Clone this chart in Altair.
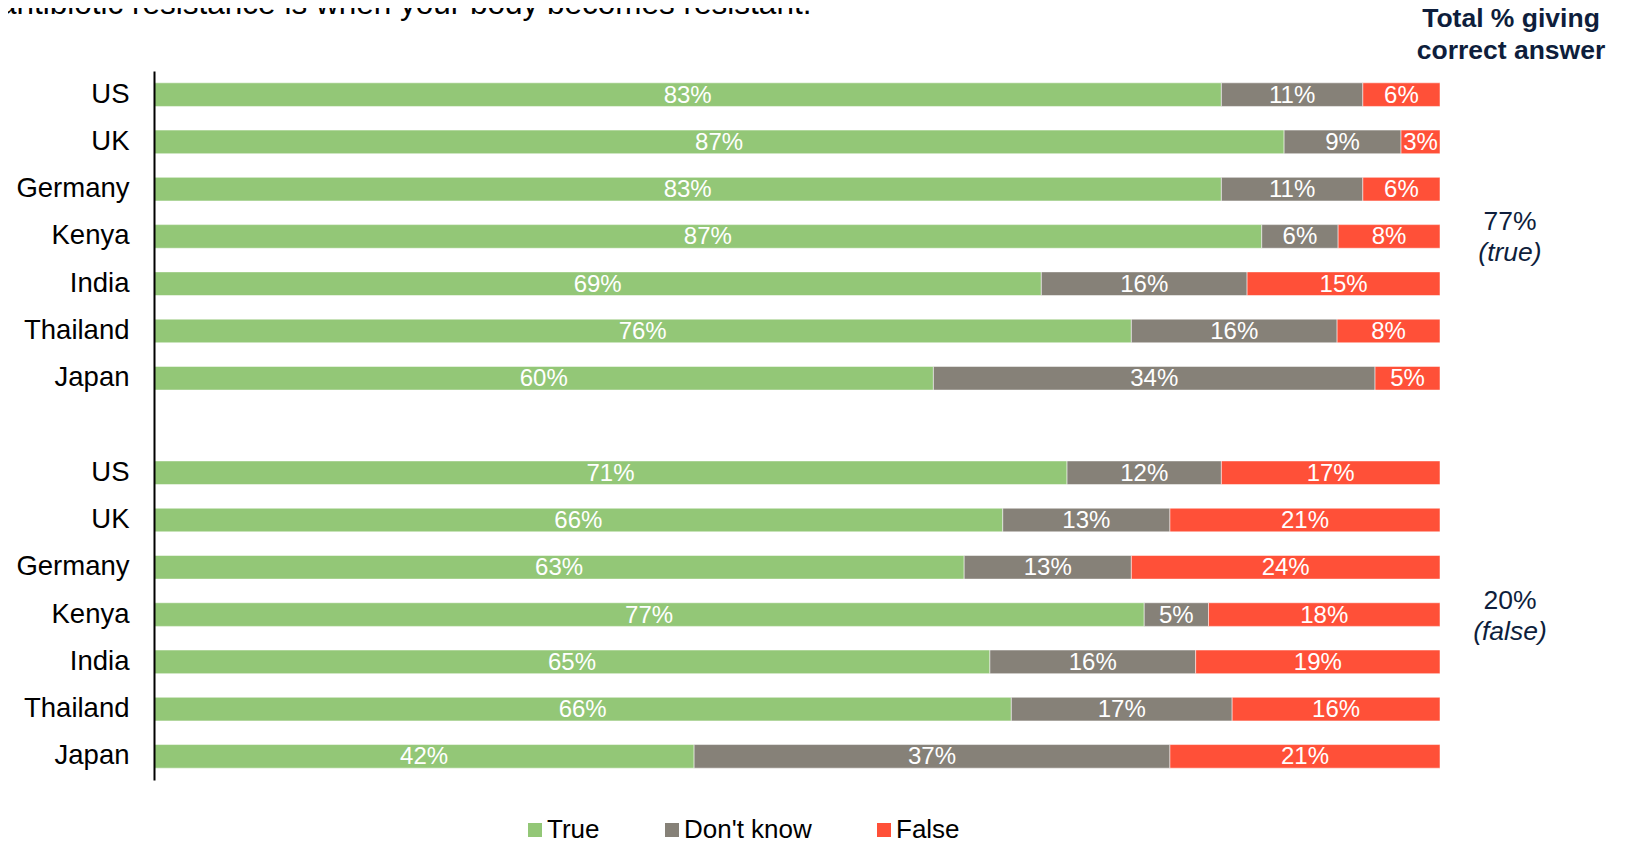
import altair as alt
import pandas as pd

countries = ["US", "UK", "Germany", "Kenya", "India", "Thailand", "Japan"]
responses = ["True", "Don't know", "False"]
colors = ["#93C777", "#868178", "#FF5038"]

q1_true = [83, 87, 83, 87, 69, 76, 60]
q1_dk = [11, 9, 11, 6, 16, 16, 34]
q1_false = [6, 3, 6, 8, 15, 8, 5]

q2_true = [71, 66, 63, 77, 65, 66, 42]
q2_dk = [12, 13, 13, 5, 16, 17, 37]
q2_false = [17, 21, 24, 18, 19, 16, 21]

title_text = "antibiotic resistance is when your body becomes resistant."
header_1 = "Total % giving"
header_2 = "correct answer"
total_1 = ["77%", "(true)"]
total_2 = ["20%", "(false)"]

rows = []
for g, series in (("1", (q1_true, q1_dk, q1_false)), ("2", (q2_true, q2_dk, q2_false))):
    for i, c in enumerate(countries):
        for k, (r, vals) in enumerate(zip(responses, series)):
            rows.append({"key": f"{c}|{g}", "response": r, "order": k, "value": vals[i]})
df = pd.DataFrame(rows)

y_domain = [f"{c}|1" for c in countries] + [" "] + [f"{c}|2" for c in countries]

FONT = "Liberation Sans"
NAVY = "#0E1E3C"

base = alt.Chart(df).transform_stack(
    stack="value",
    groupby=["key"],
    as_=["s0", "s1"],
    offset="normalize",
    sort=[alt.SortField(field="order", order="ascending")],
).transform_calculate(
    mid="(datum.s0 + datum.s1) / 2",
    label="datum.value + '%'",
)

yenc = alt.Y(
    "key:N",
    scale=alt.Scale(domain=y_domain, paddingInner=0.5, paddingOuter=0.25),
    axis=alt.Axis(
        title=None,
        labelExpr="split(datum.label, '|')[0]",
        labelFont=FONT,
        labelFontSize=27.5,
        labelColor="black",
        labelPadding=25,
        ticks=False,
        grid=False,
        domainColor="black",
        domainWidth=2,
        zindex=1,
    ),
)

xscale = alt.Scale(domain=[0, 1], nice=False, zero=True)

bars = base.mark_bar(stroke="white", strokeWidth=1, strokeOpacity=0.5).encode(
    x=alt.X("s0:Q", scale=xscale, axis=None),
    x2="s1:Q",
    y=yenc,
    color=alt.Color(
        "response:N",
        scale=alt.Scale(domain=responses, range=colors),
        legend=alt.Legend(
            title=None,
            orient="none",
            legendX=368,
            legendY=746,
            direction="horizontal",
            symbolType="square",
            symbolSize=196,
            symbolStrokeWidth=0,
            labelFont=FONT,
            labelFontSize=26,
            labelColor="black",
            labelOffset=alt.ExprRef(expr="-1"),
            columnPadding=59,
            padding=0,
        ),
    ),
)

labels = base.mark_text(color="white", font=FONT, fontSize=24, baseline="middle", dy=1).encode(
    x=alt.X("mid:Q", scale=xscale, axis=None),
    y=yenc,
    text="label:N",
)


def ann(text, x, y, size, weight="normal", style="normal", align="center", color=NAVY, font=FONT):
    return alt.Chart(pd.DataFrame({"t": [text]})).mark_text(
        font=font, fontSize=size, fontWeight=weight, fontStyle=style,
        align=align, baseline="alphabetic", color=color,
    ).encode(x=alt.value(x), y=alt.value(y), text="t:N")


annotations = [
    ann(title_text, -155, -57, 31.5, align="left", color="black"),
    ann(header_1, 1357, -44, 26.5, weight="bold"),
    ann(header_2, 1357, -12, 26.5, weight="bold"),
    ann(total_1[0], 1356, 159, 26.5),
    ann(total_1[1], 1356, 190, 26.5, style="italic"),
    ann(total_2[0], 1356, 538, 26.5),
    ann(total_2[1], 1356, 569, 26.5, style="italic"),
]

chart = alt.layer(bars, labels, *annotations).properties(
    width=1286,
    height=709,
    padding={"left": 146, "top": 63, "right": 179, "bottom": 61},
    autosize=alt.AutoSizeParams(type="none"),
).configure_view(stroke=None)

chart.save("out.html", embed_options={"renderer": "svg", "actions": False})
